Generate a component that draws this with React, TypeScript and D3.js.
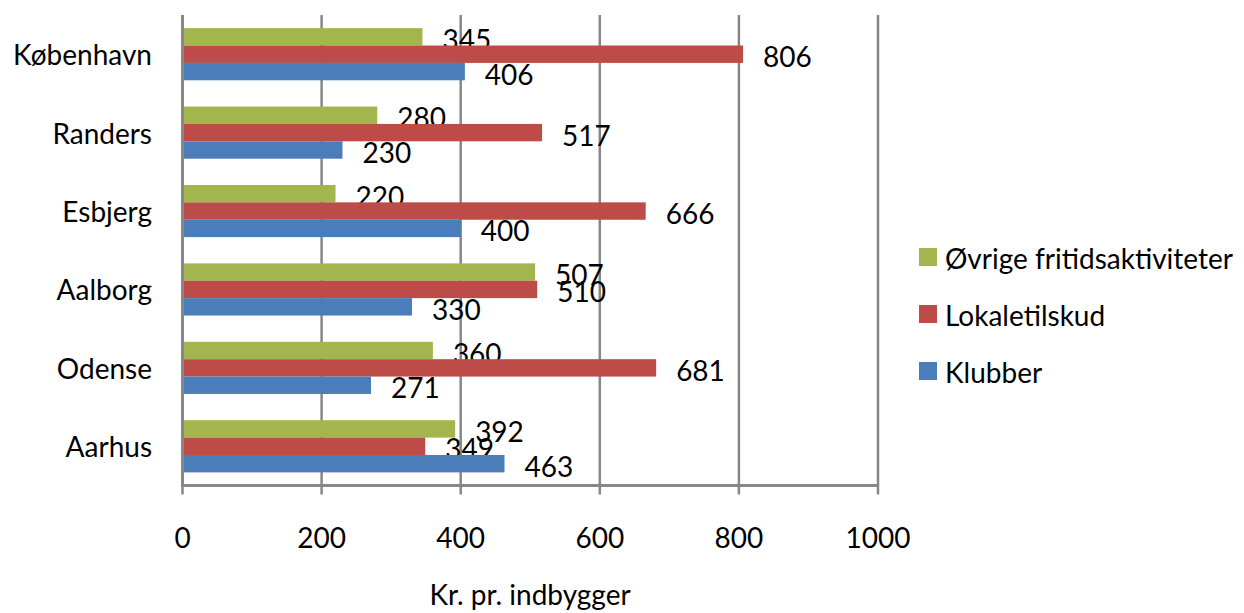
import React from "react";
import * as d3 from "d3";

const cities = ["København", "Randers", "Esbjerg", "Aalborg", "Odense", "Aarhus"];
const seriesNames = ["Øvrige fritidsaktiviteter", "Lokaletilskud", "Klubber"];
const ovrige = [345, 280, 220, 507, 360, 392];
const lokaletilskud = [806, 517, 666, 510, 681, 349];
const klubber = [406, 230, 400, 330, 271, 463];
const xTicks = [0, 200, 400, 600, 800, 1000];

const COLORS = ["#A3B54D", "#BD4B47", "#4A7DB9"];
const GRID = "#878787";
const FONT = "Lato, 'Noto Sans', sans-serif";
const FS = 28;

const W = 1244;
const H = 613;
const LEFT = 182.5;
const RIGHT = 878;
const TOP = 15;
const BOTTOM = 485.5;

const App = () => {
  const values = [ovrige, lokaletilskud, klubber];

  const x = d3.scaleLinear().domain([0, 1000]).range([LEFT, RIGHT]);
  const y = d3
    .scaleBand<string>()
    .domain(cities)
    .range([TOP, BOTTOM])
    .paddingInner(0.335)
    .paddingOuter(0.1675);
  const sub = d3
    .scaleBand<string>()
    .domain(seriesNames)
    .range([0, y.bandwidth()]);

  return (
    <div style={{ position: "absolute", left: 0, top: 0 }}>
      <svg width={W} height={H} style={{ display: "block", background: "#fff" }}>
        {/* gridlines */}
        {xTicks.slice(1).map((t) => (
          <line
            key={t}
            x1={x(t)}
            x2={x(t)}
            y1={TOP}
            y2={BOTTOM}
            stroke={GRID}
            strokeWidth={2.5}
          />
        ))}

        {/* bars */}
        {cities.map((c, i) => (
          <g key={c} transform={`translate(0, ${y(c)})`}>
            {seriesNames.map((s, j) => {
              const v = values[j][i];
              const y0 = sub(s)!;
              return (
                <g key={s}>
                  <rect
                    x={x(0)}
                    y={y0}
                    width={x(v) - x(0)}
                    height={sub.bandwidth()}
                    fill={COLORS[j]}
                  />
                  <text
                    x={x(v) + 20}
                    y={y0 + sub.bandwidth() / 2 + 2}
                    dominantBaseline="central"
                    fontFamily={FONT}
                    fontSize={FS}
                    fill="#000"
                  >
                    {v}
                  </text>
                </g>
              );
            })}
          </g>
        ))}

        {/* axes */}
        <line x1={LEFT} x2={LEFT} y1={TOP} y2={BOTTOM} stroke={GRID} strokeWidth={3} />
        <line x1={LEFT - 1.5} x2={RIGHT + 1} y1={BOTTOM} y2={BOTTOM} stroke={GRID} strokeWidth={3} />
        {xTicks.map((t) => (
          <g key={t}>
            <line
              x1={x(t)}
              x2={x(t)}
              y1={BOTTOM}
              y2={BOTTOM + 9}
              stroke={GRID}
              strokeWidth={2.5}
            />
            <text
              x={x(t)}
              y={537}
              textAnchor="middle"
              dominantBaseline="central"
              fontFamily={FONT}
              fontSize={FS}
            >
              {t}
            </text>
          </g>
        ))}

        {/* category labels */}
        {cities.map((c) => (
          <text
            key={c}
            x={152}
            y={y(c)! + y.bandwidth() / 2}
            textAnchor="end"
            dominantBaseline="central"
            fontFamily={FONT}
            fontSize={FS}
          >
            {c}
          </text>
        ))}

        <text
          x={530}
          y={594}
          textAnchor="middle"
          dominantBaseline="central"
          fontFamily={FONT}
          fontSize={FS}
        >
          Kr. pr. indbygger
        </text>

        {/* legend */}
        {seriesNames.map((s, j) => (
          <g key={s} transform={`translate(919, ${257 + j * 57})`}>
            <rect x={0} y={-9} width={18} height={18} fill={COLORS[j]} />
            <text
              x={26}
              y={1}
              dominantBaseline="central"
              fontFamily={FONT}
              fontSize={FS}
            >
              {s}
            </text>
          </g>
        ))}
      </svg>
    </div>
  );
};

export default App;
